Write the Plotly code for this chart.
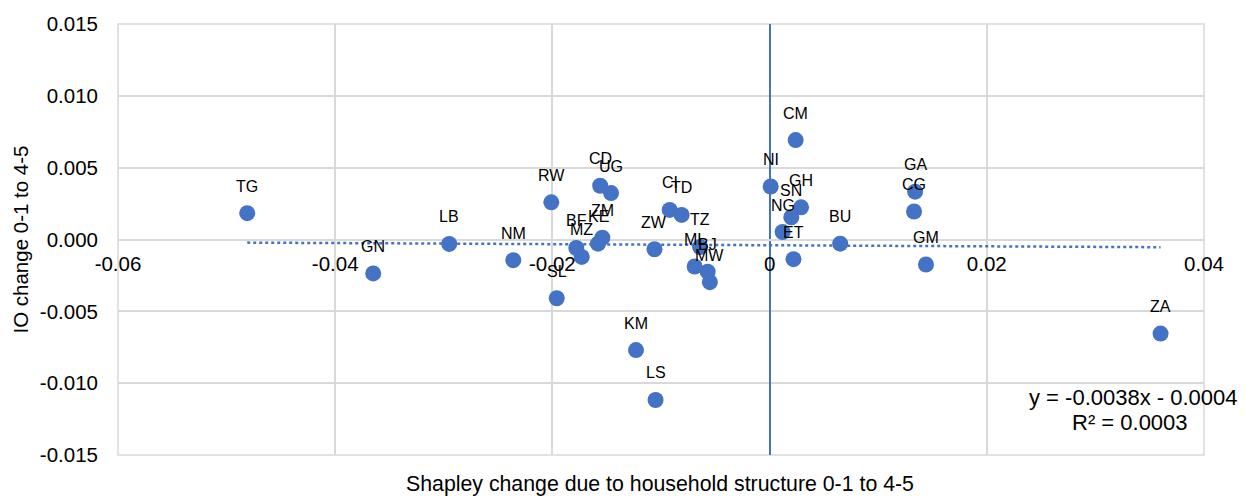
import plotly.graph_objects as go

# ---- data ----
countries = ["TG", "GN", "LB", "NM", "RW", "SL", "CD", "UG", "BF", "MZ", "KE", "ZM",
             "ZW", "CI", "TD", "TZ", "ML", "BJ", "MW", "KM", "LS", "NI", "CM", "GH",
             "SN", "NG", "ET", "BU", "GA", "CG", "GM", "ZA"]
shapley_change = [-0.0481, -0.0365, -0.0295, -0.0236, -0.0201, -0.0196, -0.0156, -0.0146,
                  -0.0178, -0.0173, -0.0158, -0.0154, -0.0106, -0.0092, -0.0081, -0.0064,
                  -0.0069, -0.0057, -0.0055, -0.0123, -0.0105, 0.0001, 0.0024, 0.0029,
                  0.0020, 0.0012, 0.0022, 0.0065, 0.0134, 0.0133, 0.0144, 0.0360]
io_change = [0.00183, -0.00236, -0.00031, -0.00144, 0.00259, -0.00409, 0.00374, 0.00323,
             -0.00059, -0.00121, -0.00029, 0.00012, -0.00068, 0.00206, 0.00171, -0.00052,
             -0.00188, -0.00224, -0.00297, -0.00770, -0.01117, 0.00369, 0.00692, 0.00224,
             0.00155, 0.00052, -0.00137, -0.00029, 0.00333, 0.00195, -0.00174, -0.00655]

trend_slope = -0.0038
trend_intercept = -0.0004
trend_r2 = 0.0003

x_tickvals = [-0.06, -0.04, -0.02, 0.0, 0.02, 0.04]
x_ticktext = ["-0.06", "-0.04", "-0.02", "0", "0.02", "0.04"]
y_tickvals = [-0.015, -0.010, -0.005, 0.0, 0.005, 0.010, 0.015]
y_ticktext = ["-0.015", "-0.010", "-0.005", "0.000", "0.005", "0.010", "0.015"]

x_title = "Shapley change due to household structure 0-1 to 4-5"
y_title = "IO change 0-1 to 4-5"

# ---- figure ----
BLUE = "#4472C4"
GRID = "#D9D9D9"
FONT = "Liberation Sans, Arial, sans-serif"

fig = go.Figure()

x_min, x_max = min(shapley_change), max(shapley_change)
fig.add_trace(go.Scatter(
    x=[x_min, x_max],
    y=[trend_slope * x_min + trend_intercept, trend_slope * x_max + trend_intercept],
    mode="lines",
    line=dict(color=BLUE, width=2.5, dash="dot"),
    hoverinfo="skip",
    showlegend=False,
))

fig.add_trace(go.Scatter(
    x=shapley_change, y=io_change, mode="markers",
    marker=dict(color=BLUE, size=16, line=dict(width=0)),
    text=countries, showlegend=False,
))

for cx, cy, lab in zip(shapley_change, io_change, countries):
    fig.add_annotation(x=cx, y=cy, text=lab, showarrow=False, yshift=27,
                       font=dict(family=FONT, size=16, color="#000000"))

eq_line1 = f"y = {trend_slope:.4f}x - {abs(trend_intercept):.4f}"
eq_line2 = f"R² = {trend_r2:.4f}"
fig.add_annotation(xref="paper", yref="paper", x=0.9355, y=0.1333, text=eq_line1,
                   showarrow=False, xanchor="center", yanchor="middle",
                   font=dict(family=FONT, size=22, color="#000000"))
fig.add_annotation(xref="paper", yref="paper", x=0.9314, y=0.0759, text=eq_line2,
                   showarrow=False, xanchor="center", yanchor="middle",
                   font=dict(family=FONT, size=22, color="#000000"))

fig.add_annotation(xref="paper", yref="paper", x=0.499, y=-0.067, text=x_title,
                   showarrow=False, xanchor="center", yanchor="middle",
                   font=dict(family=FONT, size=21.3, color="#000000"))
fig.add_annotation(xref="paper", yref="paper", x=-0.0902, y=0.5, text=y_title,
                   showarrow=False, xanchor="center", yanchor="middle", textangle=-90,
                   font=dict(family=FONT, size=20.5, color="#000000"))

fig.add_shape(type="rect", xref="paper", yref="paper", x0=0, x1=1, y0=0, y1=1,
              line=dict(color=GRID, width=1.5), layer="below")

fig.update_layout(
    width=1247, height=499,
    margin=dict(l=118, r=43, t=20, b=44),
    paper_bgcolor="white", plot_bgcolor="white",
    font=dict(family=FONT, size=20, color="#000000"),
    xaxis=dict(range=[-0.06, 0.04], tickvals=x_tickvals, ticktext=x_ticktext,
               showgrid=True, gridcolor=GRID, gridwidth=1.5,
               zeroline=True, zerolinecolor=BLUE, zerolinewidth=1.5,
               showline=False, anchor="free", position=0.5,
               ticks="", ticklabelstandoff=10,
               tickfont=dict(family=FONT, size=20.5, color="#000000")),
    yaxis=dict(range=[-0.015, 0.015], tickvals=y_tickvals, ticktext=y_ticktext,
               showgrid=True, gridcolor=GRID, gridwidth=1.5,
               zeroline=True, zerolinecolor=GRID, zerolinewidth=1.5,
               showline=False, ticks="", ticklabelstandoff=19,
               tickfont=dict(family=FONT, size=20.5, color="#000000")),
)

fig.write_html("out.html",
               config={"displayModeBar": False},
               post_script="document.body.style.margin='0';document.body.style.padding='0';"
                           "document.documentElement.style.overflow='hidden';")
